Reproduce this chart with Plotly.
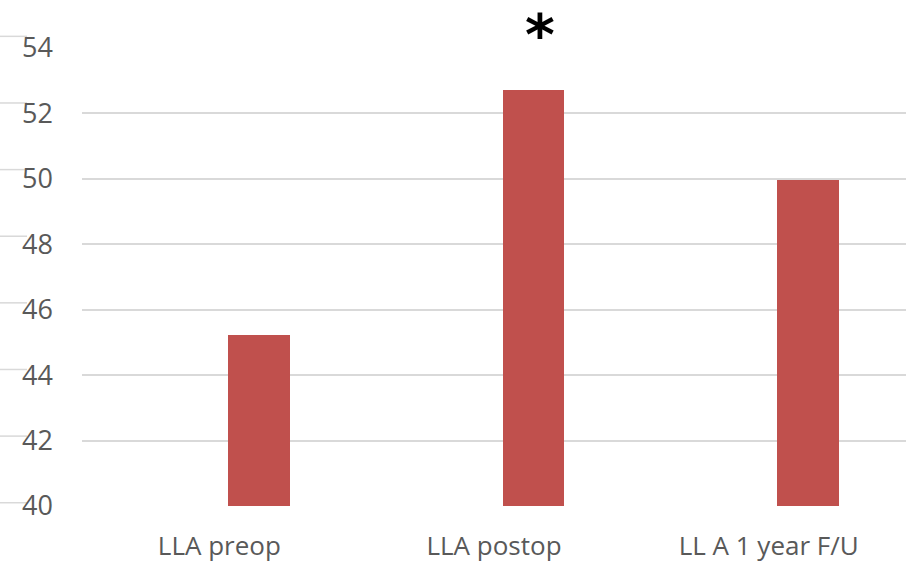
import plotly.graph_objects as go

# Left atrial measurements across follow-up points
categories = ["LLA preop", "LLA postop", "LL A 1 year F/U"]
values = [45.23, 52.72, 49.96]
y_ticks = [40, 42, 44, 46, 48, 50, 52, 54]
significance_marker = "*"
marked_category = "LLA postop"

BAR_COLOR = "#C0504D"
TEXT_COLOR = "#595959"
GRID_COLOR = "#D9D9D9"
FONT = "Open Sans"
Y_MIN, Y_MAX = 40, 54

fig = go.Figure()
fig.add_trace(
    go.Bar(
        x=categories,
        y=values,
        marker=dict(color=BAR_COLOR, line=dict(width=0)),
        width=0.225,
        offset=0.031,
        showlegend=False,
    )
)

# significance star above the post-op bar
fig.add_annotation(
    x=marked_category,
    y=Y_MAX,
    xshift=46,
    yshift=13,
    text=f"<b>{significance_marker}</b>",
    showarrow=False,
    borderpad=0,
    font=dict(family="DejaVu Sans", size=57, color="#000000"),
)

# faint secondary gridline stubs at the left edge
for v in y_ticks:
    yv = 40.1 + (v - Y_MIN) * 1.0183
    yp = (yv - Y_MIN) / (Y_MAX - Y_MIN)
    fig.add_shape(
        type="line",
        xref="paper", yref="paper",
        x0=-82 / 824, x1=-55 / 824,
        y0=yp, y1=yp,
        line=dict(color=GRID_COLOR, width=1.5),
        layer="below",
    )

fig.update_layout(
    width=912,
    height=563,
    margin=dict(l=82, r=6, t=48, b=57, autoexpand=False),
    paper_bgcolor="white",
    plot_bgcolor="white",
    font=dict(family=FONT, color=TEXT_COLOR, size=26),
    bargap=0,
)
fig.update_xaxes(
    type="category",
    range=[-0.5, 2.5],
    showgrid=False,
    showline=False,
    zeroline=False,
    ticks="",
    automargin=False,
    tickfont=dict(family=FONT, size=26, color=TEXT_COLOR),
    ticklabelstandoff=22,
)
fig.update_yaxes(
    range=[Y_MIN, Y_MAX],
    tickvals=y_ticks,
    ticktext=[str(t) for t in y_ticks],
    showgrid=True,
    gridcolor=GRID_COLOR,
    gridwidth=1.5,
    zeroline=False,
    showline=False,
    ticks="",
    automargin=False,
    tickfont=dict(family=FONT, size=27, color=TEXT_COLOR),
    ticklabelstandoff=28,
)

fig.write_html("out.html")
